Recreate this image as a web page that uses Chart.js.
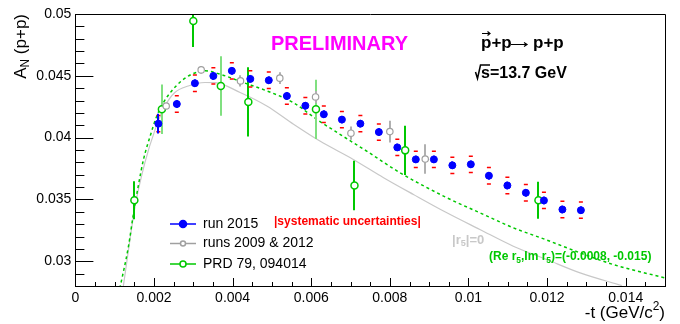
<!DOCTYPE html>
<html>
<head>
<meta charset="utf-8">
<script src="https://cdn.jsdelivr.net/npm/chart.js@4.4.0/dist/chart.umd.min.js"></script>
<style>
  html, body { margin: 0; padding: 0; background: #fff; }
</style>
</head>
<body>
<canvas id="myChart" width="680" height="324"></canvas>
<script>
// run 2015
var blueT = [0.00211, 0.00258, 0.00304, 0.00351, 0.00398, 0.00445, 0.00492, 0.00538, 0.00585, 0.00632,
             0.00678, 0.00725, 0.00772, 0.00819, 0.00866, 0.00912, 0.00959, 0.01006, 0.01052, 0.01099,
             0.01146, 0.01192, 0.01239, 0.01286];
var blueA = [0.04113, 0.04272, 0.0444, 0.04499, 0.0454, 0.04475, 0.04464, 0.04337, 0.04258, 0.04189,
             0.04146, 0.04113, 0.04045, 0.03921, 0.03824, 0.03824, 0.03776, 0.03784, 0.03692, 0.03613,
             0.03554, 0.03492, 0.03419, 0.03413];
var blueStat = [0.0008, 0.0003, 0.0003, 0.0003, 0.0003, 0.0003, 0.0003, 0.0003, 0.0003, 0.0003,
                0.0003, 0.0003, 0.0003, 0.0003, 0.0003, 0.0003, 0.0003, 0.0003, 0.0003, 0.0003,
                0.0003, 0.0003, 0.0003, 0.0003];
var blueSys = 0.00066;

// runs 2009 & 2012
var grayT = [0.00231, 0.0032, 0.0042, 0.0052, 0.00611, 0.00701, 0.008, 0.0089];
var grayA = [0.04256, 0.04548, 0.04459, 0.04481, 0.04329, 0.04036, 0.04049, 0.03827];
var grayErr = [0.0002, 0.0003, 0.00046, 0.00047, 0.00048, 0.00054, 0.00088, 0.0012];

// PRD 79, 094014
var greenT = [0.0015, 0.0022, 0.003, 0.0037, 0.0044, 0.00612, 0.0071, 0.00839, 0.01178];
var greenA = [0.03494, 0.04229, 0.04943, 0.04418, 0.04289, 0.04229, 0.03613, 0.03897, 0.03494];
var greenErr = [0.00154, 0.002, 0.0021, 0.0024, 0.0028, 0.0024, 0.002, 0.002, 0.0015];

// curves
var r5CurveT = [0.00113, 0.00135, 0.00147, 0.0016, 0.00173, 0.0019, 0.00207, 0.00224, 0.00245, 0.0027,
                0.00296, 0.0033, 0.00368, 0.00427, 0.00487, 0.00554, 0.00614, 0.00673, 0.00741, 0.00826,
                0.00945, 0.01029, 0.01114, 0.01199, 0.01284, 0.01369, 0.015];
var r5CurveA = [0.0278, 0.0312, 0.0337, 0.0361, 0.0382, 0.0401, 0.04175, 0.04284, 0.04378, 0.04459,
                0.04513, 0.0454, 0.04513, 0.04446, 0.04378, 0.04284, 0.04148, 0.04027, 0.03891, 0.03716,
                0.03514, 0.03392, 0.03271, 0.03172, 0.03068, 0.02973, 0.02865];
var zeroCurveT = [0.00122, 0.00152, 0.00177, 0.00203, 0.00228, 0.00253, 0.00287, 0.0033, 0.00355, 0.00419,
                  0.00487, 0.00555, 0.00622, 0.00707, 0.00784, 0.0086, 0.00945, 0.01029, 0.01114, 0.01199,
                  0.01284, 0.0139];
var zeroCurveA = [0.028, 0.03446, 0.038, 0.04067, 0.04256, 0.04365, 0.04418, 0.04446, 0.04445, 0.04365,
                  0.04256, 0.04108, 0.03972, 0.03824, 0.03676, 0.0354, 0.03392, 0.03257, 0.03122, 0.03014,
                  0.02906, 0.02803];

var tTicks = [0, 0.002, 0.004, 0.006, 0.008, 0.01, 0.012, 0.014];
var aTicks = [0.03, 0.035, 0.04, 0.045, 0.05];
var seriesNames = ['run 2015', 'runs 2009 & 2012', 'PRD 79, 094014'];

// styles
var FONT = '"Liberation Sans", Arial, Helvetica, sans-serif';
var BLUE = '#0000ff', GRAY = '#a0a0a0', GREEN = '#00c800', GREEN_LIGHT = '#80e080', RED = '#ff0000';
var prdBarLight = [false, true, false, true, false, true, false, false, false];

function pts(xs, ys) {
  return xs.map(function (x, i) { return { x: x, y: ys[i] }; });
}
function fmt(v) {
  return String(parseFloat(Number(v).toFixed(4)));
}
function font(size, bold) {
  return (bold ? 'bold ' : '') + size + 'px ' + FONT;
}
// parts: [text, mode(0 normal, 1 sub, 2 sup), bold override]
function drawRich(ctx, x, y, parts, size, bold, align) {
  ctx.textBaseline = 'middle';
  ctx.textAlign = 'left';
  var widths = parts.map(function (p) {
    var b = p[2] === undefined ? bold : p[2];
    ctx.font = font(p[1] ? size * 0.7 : size, b);
    return ctx.measureText(p[0]).width;
  });
  var total = widths.reduce(function (a, b) { return a + b; }, 0);
  var cx = align === 'right' ? x - total : (align === 'center' ? x - total / 2 : x);
  parts.forEach(function (p, i) {
    var b = p[2] === undefined ? bold : p[2];
    ctx.font = font(p[1] ? size * 0.7 : size, b);
    var dy = p[1] === 1 ? size * 0.3 : (p[1] === 2 ? -size * 0.35 : 0);
    ctx.fillText(p[0], cx, y + dy);
    cx += widths[i];
  });
  return total;
}

// error bars, drawn just before each marker set
var errorBars = {
  id: 'errorBars',
  beforeDatasetDraw: function (chart, args) {
    var ds = chart.data.datasets[args.index];
    if (!ds.errors) return;
    var ctx = chart.ctx, xs = chart.scales.x, ys = chart.scales.y, a = chart.chartArea;
    ctx.save();
    ctx.beginPath();
    ctx.rect(a.left, a.top, a.right - a.left, a.bottom - a.top);
    ctx.clip();
    ctx.lineWidth = ds.errWidth || 2;
    ds.data.forEach(function (p, i) {
      var px = Math.round(xs.getPixelForValue(p.x));
      ctx.strokeStyle = ds.errColors ? ds.errColors[i] : ds.borderColor;
      ctx.beginPath();
      ctx.moveTo(px, ys.getPixelForValue(p.y + ds.errors[i]));
      ctx.lineTo(px, ys.getPixelForValue(p.y - ds.errors[i]));
      ctx.stroke();
    });
    ctx.restore();
  }
};

// ROOT-like frame with inward ticks
var frame = {
  id: 'frame',
  afterDatasetsDraw: function (chart) {
    var ctx = chart.ctx, a = chart.chartArea, xs = chart.scales.x, ys = chart.scales.y;
    ctx.save();
    ctx.strokeStyle = '#000';
    ctx.lineWidth = 1;
    ctx.beginPath();
    ctx.moveTo(a.left, a.top + 0.5); ctx.lineTo(a.right + 0.5, a.top + 0.5);
    ctx.lineTo(a.right + 0.5, a.bottom);
    ctx.stroke();
    ctx.beginPath();
    for (var k = 0; k <= 30; k++) {
      var v = k * 0.0005;
      var px = Math.round(xs.getPixelForValue(v)) + 0.5;
      var len = (k % 4 === 0) ? 8 : 4;
      ctx.moveTo(px, a.bottom); ctx.lineTo(px, a.bottom - len);
    }
    for (var j = 28; j <= 50; j++) {
      var py = Math.round(ys.getPixelForValue(j / 1000)) + 0.5;
      var l2 = (j % 5 === 0) ? 18 : 9;
      ctx.moveTo(a.left, py); ctx.lineTo(a.left + l2, py);
    }
    ctx.stroke();
    ctx.restore();
  }
};

var legendBox = {
  id: 'legendBox',
  afterDraw: function (chart) {
    var ctx = chart.ctx;
    var rows = [
      { color: BLUE, fill: BLUE, r: 3.5, y: 224 },
      { color: GRAY, fill: '#fff', r: 2.5, y: 243.5 },
      { color: GREEN, fill: '#fff', r: 3, y: 264 }
    ];
    ctx.save();
    rows.forEach(function (row, i) {
      ctx.strokeStyle = row.color;
      ctx.lineWidth = 1.5;
      ctx.beginPath();
      ctx.moveTo(170, row.y); ctx.lineTo(196, row.y);
      ctx.stroke();
      ctx.fillStyle = row.fill;
      ctx.beginPath();
      ctx.arc(183, row.y, row.r, 0, Math.PI * 2);
      ctx.fill();
      ctx.stroke();
      ctx.fillStyle = '#000';
      ctx.font = font(14, false);
      ctx.textBaseline = 'middle';
      ctx.textAlign = 'left';
      ctx.fillText(seriesNames[i], 203, row.y);
    });
    ctx.restore();
  }
};

var texts = {
  id: 'texts',
  afterDraw: function (chart) {
    var ctx = chart.ctx;
    ctx.save();
    ctx.fillStyle = '#ff00ff';
    ctx.font = font(20, true);
    ctx.textBaseline = 'middle';
    ctx.fillText('PRELIMINARY', 271, 44);

    ctx.fillStyle = '#000';
    drawRich(ctx, 481, 43, [['p+p', 0]], 17, true, 'left');
    drawRich(ctx, 533, 43, [['p+p', 0]], 17, true, 'left');
    ctx.strokeStyle = '#000';
    ctx.lineWidth = 1.2;
    ctx.beginPath();
    // vector arrow over the first p
    ctx.moveTo(482, 33.5); ctx.lineTo(490, 33.5);
    ctx.moveTo(487.5, 31.5); ctx.lineTo(490, 33.5); ctx.lineTo(487.5, 35.5);
    // reaction arrow
    ctx.moveTo(511, 44.5); ctx.lineTo(527, 44.5);
    ctx.moveTo(524, 42.5); ctx.lineTo(527, 44.5); ctx.lineTo(524, 46.5);
    ctx.stroke();

    ctx.lineWidth = 1.5;
    ctx.beginPath();
    ctx.moveTo(475.5, 72); ctx.lineTo(477.5, 78.5); ctx.lineTo(480.5, 65); ctx.lineTo(490, 65);
    ctx.stroke();
    drawRich(ctx, 481, 73.3, [['s=13.7 GeV', 0]], 16, true, 'left');

    ctx.fillStyle = RED;
    drawRich(ctx, 274, 222, [['|systematic uncertainties|', 0]], 12, true, 'left');

    ctx.fillStyle = '#c8c8c8';
    drawRich(ctx, 452, 240, [['|r', 0], ['5', 1], ['|=0', 0]], 13, true, 'left');

    ctx.fillStyle = GREEN;
    drawRich(ctx, 489, 257, [['(Re r', 0], ['5', 1], [',Im r', 0], ['5', 1], [')=(-0.0008, -0.015)', 0]], 12, true, 'left');

    ctx.fillStyle = '#000';
    drawRich(ctx, 665, 313, [['-t (GeV/c', 0], ['2', 2], [')', 0]], 17, false, 'right');
    ctx.translate(21, 14);
    ctx.rotate(-Math.PI / 2);
    drawRich(ctx, 0, 0, [['A', 0], ['N', 1], [' (p+p)', 0]], 17, false, 'right');
    ctx.restore();
  }
};

var ctx = document.getElementById('myChart').getContext('2d');
var chart = new Chart(ctx, {
  type: 'scatter',
  data: {
    datasets: [
      {
        label: seriesNames[0],
        data: pts(blueT, blueA),
        errors: blueStat,
        borderColor: BLUE,
        backgroundColor: BLUE,
        pointRadius: 3.5,
        pointBorderWidth: 1,
        showLine: false,
        order: 0
      },
      {
        label: 'sys up',
        data: pts(blueT, blueA.map(function (v) { return v + blueSys; })),
        pointStyle: 'line',
        pointRadius: 2,
        pointBorderWidth: 1.5,
        borderColor: RED,
        backgroundColor: RED,
        showLine: false,
        order: 1
      },
      {
        label: 'sys down',
        data: pts(blueT, blueA.map(function (v) { return v - blueSys; })),
        pointStyle: 'line',
        pointRadius: 2,
        pointBorderWidth: 1.5,
        borderColor: RED,
        backgroundColor: RED,
        showLine: false,
        order: 1
      },
      {
        label: seriesNames[1],
        data: pts(grayT, grayA),
        errors: grayErr,
        errWidth: 2,
        errColors: grayT.map(function () { return '#b0b0b0'; }),
        borderColor: GRAY,
        backgroundColor: '#fff',
        pointRadius: 3.2,
        pointBorderWidth: 1.2,
        showLine: false,
        order: 2
      },
      {
        label: seriesNames[2],
        data: pts(greenT, greenA),
        errors: greenErr,
        errWidth: 2,
        errColors: prdBarLight.map(function (l) { return l ? GREEN_LIGHT : GREEN; }),
        borderColor: GREEN,
        backgroundColor: '#fff',
        pointRadius: 3.5,
        pointBorderWidth: 1.5,
        showLine: false,
        order: 3
      },
      {
        label: 'r5 fit',
        data: pts(r5CurveT, r5CurveA),
        showLine: true,
        borderColor: GREEN,
        borderWidth: 1.5,
        borderDash: [3, 3],
        pointRadius: 0,
        cubicInterpolationMode: 'monotone',
        order: 5
      },
      {
        label: 'r5 zero',
        data: pts(zeroCurveT, zeroCurveA),
        showLine: true,
        borderColor: '#c8c8c8',
        borderWidth: 1.2,
        pointRadius: 0,
        cubicInterpolationMode: 'monotone',
        order: 6
      }
    ]
  },
  options: {
    responsive: false,
    animation: false,
    events: [],
    layout: { padding: { left: 0, right: 15, top: 14, bottom: 0 } },
    plugins: { legend: { display: false }, tooltip: { enabled: false } },
    scales: {
      x: {
        type: 'linear',
        min: 0,
        max: 0.015,
        afterBuildTicks: function (s) { s.ticks = tTicks.map(function (v) { return { value: v }; }); },
        afterFit: function (s) { s.height = 38; },
        grid: { display: false, drawTicks: false, tickLength: 0 },
        border: { display: true, color: '#000', width: 1 },
        ticks: {
          color: '#000',
          font: { family: FONT, size: 14 },
          padding: 4,
          maxRotation: 0,
          autoSkip: false,
          callback: function (v) { return fmt(v); }
        }
      },
      y: {
        type: 'linear',
        min: 0.028,
        max: 0.05,
        afterBuildTicks: function (s) { s.ticks = aTicks.map(function (v) { return { value: v }; }); },
        afterFit: function (s) { s.width = 75.4; },
        grid: { display: false, drawTicks: false, tickLength: 0 },
        border: { display: true, color: '#000', width: 1 },
        ticks: {
          color: '#000',
          font: { family: FONT, size: 14 },
          padding: 4,
          autoSkip: false,
          callback: function (v) { return fmt(v); }
        }
      }
    }
  },
  plugins: [errorBars, frame, legendBox, texts]
});
</script>
</body>
</html>
